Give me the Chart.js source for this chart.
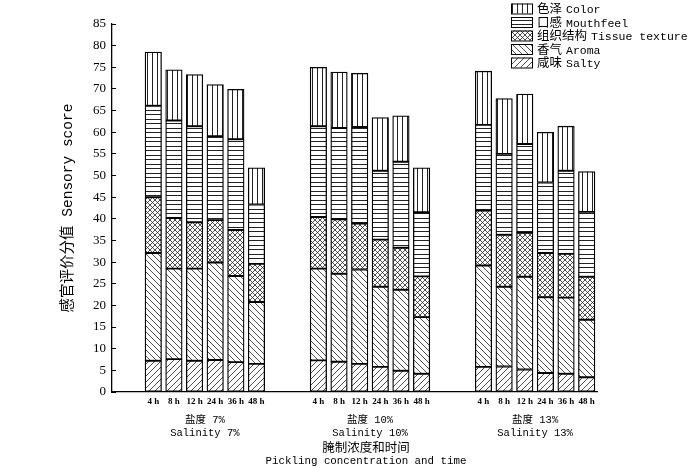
<!DOCTYPE html>
<html>
<head>
<meta charset="utf-8">
<script src="https://cdn.jsdelivr.net/npm/chart.js@4.4.1/dist/chart.umd.min.js"></script>
<style>
  body { margin: 0; background: #fff; }
</style>
</head>
<body>
<canvas id="myChart" width="700" height="468"></canvas>
<script>
const TIMES = ['4 h', '8 h', '12 h', '24 h', '36 h', '48 h'];
const SALINITY_CN = ['盐度 7%', '盐度 10%', '盐度 13%'];
const SALINITY_EN = ['Salinity 7%', 'Salinity 10%', 'Salinity 13%'];
const Y_TICKS_MAX = 85;

// 18 bars in order: 7% 4..48 h, 10% 4..48 h, 13% 4..48 h
const salty     = [7.2, 7.6, 7.2, 7.4, 6.9, 6.5,   7.3, 7.0, 6.5, 5.8, 4.9, 4.2,   5.8, 5.9, 5.2, 4.4, 4.2, 3.4];
const aroma     = [24.9, 20.9, 21.3, 22.5, 19.9, 14.3,   21.2, 20.3, 21.8, 18.5, 18.7, 13.1,   23.4, 18.4, 21.4, 17.5, 17.6, 13.3];
const tissue    = [12.9, 11.7, 10.7, 9.8, 10.6, 8.8,   11.9, 12.6, 10.6, 10.9, 9.7, 9.4,   12.7, 12.0, 10.2, 10.2, 10.1, 9.9];
const mouthfeel = [21.1, 22.5, 22.2, 19.4, 21.0, 13.7,   21.0, 21.1, 22.3, 15.9, 19.9, 14.8,   19.8, 18.7, 20.5, 16.3, 19.2, 15.0];
const color     = [12.4, 11.7, 11.9, 11.9, 11.5, 8.5,   13.6, 12.9, 12.4, 12.3, 10.6, 10.3,   12.4, 12.8, 11.5, 11.6, 10.3, 9.3];

const ctx = document.querySelector('#myChart').getContext('2d');

// slot on the x scale: 6 bars per group, 2 empty slots between groups
function barX(k) {
  return Math.floor(k / 6) * 8 + (k % 6) + 2;
}
const barPositions = salty.map((v, k) => barX(k));
const groupCenters = SALINITY_CN.map((v, g) => g * 8 + 4.5);

function hatch(kind) {
  const s = kind === 'h' ? 9 : (kind === 'x' ? 5 : (kind === 'v' ? 5 : 6));
  const c = document.createElement('canvas');
  c.width = s; c.height = s;
  const g = c.getContext('2d');
  g.fillStyle = '#fff';
  g.fillRect(0, 0, s, s);
  g.strokeStyle = '#222';
  g.lineWidth = (kind === 'h' || kind === 'v') ? 1 : 0.8;
  g.beginPath();
  if (kind === '/' || kind === 'x') {
    g.moveTo(-1, s + 1); g.lineTo(s + 1, -1);
    g.moveTo(-1, 1); g.lineTo(1, -1);
    g.moveTo(s - 1, s + 1); g.lineTo(s + 1, s - 1);
  }
  if (kind === '\\' || kind === 'x') {
    g.moveTo(-1, -1); g.lineTo(s + 1, s + 1);
    g.moveTo(s - 1, -1); g.lineTo(s + 1, 1);
    g.moveTo(-1, s - 1); g.lineTo(1, s + 1);
  }
  if (kind === 'h') {
    g.moveTo(0, 2.5); g.lineTo(s, 2.5);
    g.moveTo(0, 6.5); g.lineTo(s, 6.5);
  }
  if (kind === 'v') {
    g.moveTo(2.5, 0); g.lineTo(2.5, s);
  }
  g.stroke();
  return ctx.createPattern(c, 'repeat');
}

const series = [
  { label: '咸味 Salty', values: salty, pat: '/' },
  { label: '香气 Aroma', values: aroma, pat: '\\' },
  { label: '组织结构 Tissue texture', values: tissue, pat: 'x' },
  { label: '口感 Mouthfeel', values: mouthfeel, pat: 'h' },
  { label: '色泽 Color', values: color, pat: 'v' }
];

const data = {
  datasets: series.map(s => ({
    label: s.label,
    data: s.values.map((v, k) => ({ x: barX(k), y: v })),
    backgroundColor: hatch(s.pat),
    borderColor: '#000',
    borderWidth: 1.3,
    borderSkipped: false,
    barThickness: 16.5
  }))
};

const MIXED = "'Liberation Mono', 'Noto Sans CJK SC'";

const extras = {
  id: 'extras',
  beforeDraw(chart) {
    const c = chart.ctx;
    c.save();
    c.fillStyle = '#fff';
    c.fillRect(0, 0, chart.width, chart.height);
    c.restore();
  },
  afterDraw(chart) {
    const c = chart.ctx;
    c.save();
    // legend (top item = top of stack); chinese and english parts in own fonts
    const items = chart.data.datasets.slice().reverse();
    items.forEach((ds, k) => {
      const y = 3.5 + k * 13.5;
      c.fillStyle = ds.backgroundColor;
      c.fillRect(511, y, 21, 10);
      c.strokeStyle = '#000';
      c.lineWidth = 1;
      c.strokeRect(511.5, y + 0.5, 21, 10);
      const cut = ds.label.indexOf(' ');
      const cn = ds.label.slice(0, cut);
      const en = ds.label.slice(cut + 1);
      c.fillStyle = '#000';
      c.textAlign = 'left';
      c.textBaseline = 'alphabetic';
      c.font = "12.5px 'Noto Sans CJK SC'";
      c.fillText(cn, 537, y + 9.5);
      const w = c.measureText(cn).width;
      c.font = "11.5px 'Liberation Mono'";
      c.fillText(en, 537 + w + 4, y + 9.5);
    });
    // x axis title
    c.fillStyle = '#000';
    c.textAlign = 'center';
    c.textBaseline = 'middle';
    c.font = "12.5px 'Noto Sans CJK SC'";
    c.fillText('腌制浓度和时间', 366, 447);
    c.font = "10.8px 'Liberation Mono'";
    c.fillText('Pickling concentration and time', 366, 461);
    c.restore();
  }
};

const chart_bar = new Chart(ctx, {
  type: 'bar',
  data: data,
  plugins: [extras],
  options: {
    responsive: false,
    animation: false,
    layout: { padding: { left: 59, top: 24, right: 103, bottom: 0 } },
    plugins: {
      legend: { display: false },
      tooltip: { enabled: false }
    },
    scales: {
      x: {
        type: 'linear',
        stacked: true,
        offset: false,
        min: 0,
        max: 23.5,
        afterBuildTicks: ax => { ax.ticks = barPositions.map(v => ({ value: v })); },
        afterFit: ax => { ax.height = 16; },
        ticks: {
          autoSkip: false,
          maxRotation: 0,
          padding: 4,
          color: '#000',
          font: { family: 'Liberation Serif', size: 9, weight: 'bold' },
          callback: (v, i) => TIMES[i % TIMES.length]
        },
        grid: { display: false, drawTicks: false, offset: false },
        border: { color: '#000', width: 1.3 }
      },
      x2: {
        type: 'linear',
        position: 'bottom',
        offset: false,
        min: 0,
        max: 23.5,
        afterBuildTicks: ax => { ax.ticks = groupCenters.map(v => ({ value: v })); },
        afterFit: ax => { ax.height = 60; },
        ticks: {
          autoSkip: false,
          maxRotation: 0,
          padding: 6,
          color: '#000',
          font: { family: MIXED, size: 10.5 },
          callback: (v, i) => [SALINITY_CN[i], SALINITY_EN[i]]
        },
        grid: { display: false, drawTicks: false, offset: false },
        border: { display: false }
      },
      y: {
        stacked: true,
        min: 0,
        max: Y_TICKS_MAX,
        afterFit: ax => { ax.width = 53; },
        ticks: {
          stepSize: 5,
          padding: 10,
          color: '#000',
          font: { family: 'Liberation Serif', size: 13 }
        },
        grid: { drawOnChartArea: false, tickLength: -4, color: '#000' },
        border: { color: '#000', width: 1.3 },
        title: {
          display: true,
          text: '感官评价分值 Sensory score',
          color: '#000',
          padding: 0,
          font: { family: MIXED, size: 14.5 }
        }
      }
    }
  }
});
</script>
</body>
</html>
